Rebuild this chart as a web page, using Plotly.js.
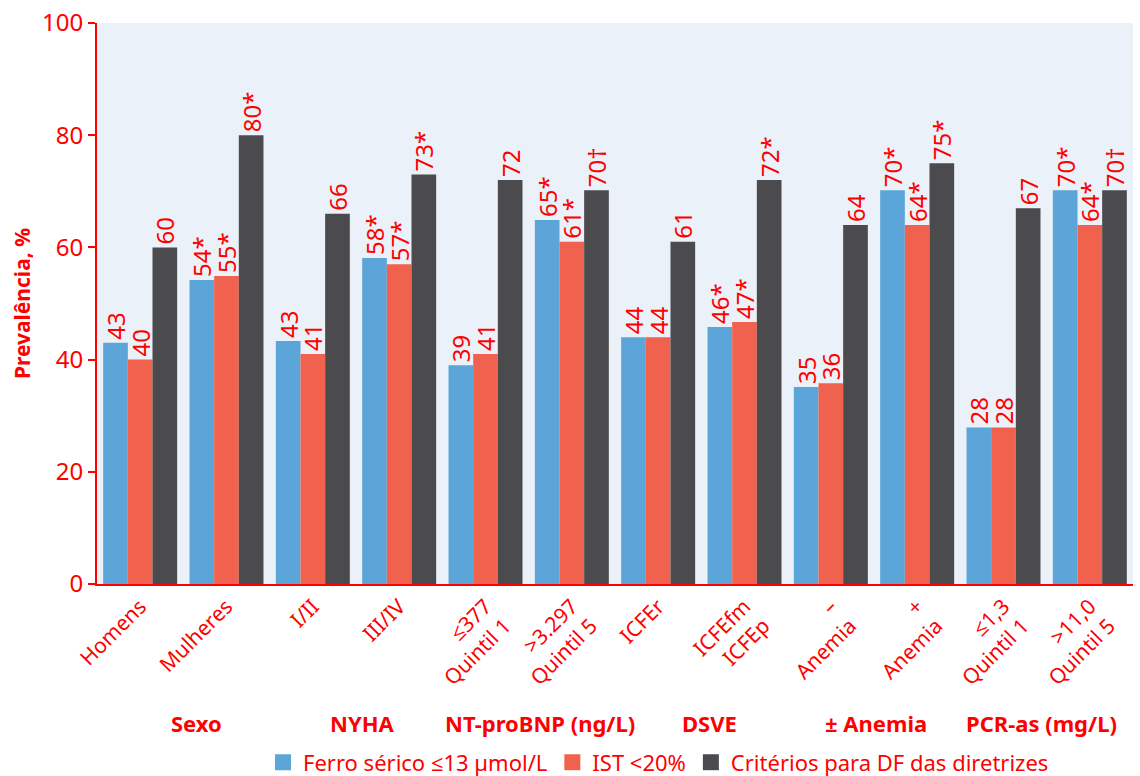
<!DOCTYPE html>
<html><head><meta charset="utf-8">
<script src="https://cdn.plot.ly/plotly-3.0.1.min.js"></script>
<style>body{margin:0;background:#fff}#chart{width:1140px;height:776px}</style>
</head><body><div id="chart"></div>
<script>
const categories = ["Homens","Mulheres","I/II","III/IV","≤377<br>Quintil 1",">3.297<br>Quintil 5","ICFEr","ICFEfm<br>ICFEp","–<br>Anemia","+<br>Anemia","≤1,3<br>Quintil 1",">11,0<br>Quintil 5"];
const ferroValues = [43,54.2,43.3,58.1,39,64.9,44,45.8,35.1,70.2,27.9,70.2];
const ferroText = ["43","54*","43","58*","39","65*","44","46*","35","70*","28","70*"];
const istValues = [40,54.9,41,57,41,61,44,46.7,35.8,64,27.9,64];
const istText = ["40","55*","41","57*","41","61*","44","47*","36","64*","28","64*"];
const dfValues = [60,80,66,73,72,70.2,61,72,64,75,67,70.2];
const dfText = ["60","80*","66","73*","72","70†","61","72*","64","75*","67","70†"];
const seriesNames = ["Ferro sérico ≤13 µmol/L","IST <20%","Critérios para DF das diretrizes"];
const groupLabels = ["Sexo","NYHA","NT-proBNP (ng/L)","DSVE","± Anemia","PCR-as (mg/L)"];
const groupPositions = [0.65,2.57,4.63,6.6,8.52,10.44];

const RED = "#ff0000";
const FONT = "Noto Sans, Open Sans, sans-serif";
const colors = ["#5ba5d9","#f0624d","#4b4a4d"];
const vals = [ferroValues, istValues, dfValues];
const texts = [ferroText, istText, dfText];
const data = vals.map((v,i)=>({
  type:"bar", x:categories, y:v, name:seriesNames[i], showlegend:false,
  marker:{color:colors[i]},
  text:texts[i], textposition:"outside", textangle:-90,
  textfont:{color:RED, size:24, family:FONT},
  constraintext:"none", cliponaxis:false, hoverinfo:"none"
}));
seriesNames.forEach((n,i)=>data.push({
  type:"scatter", mode:"markers", x:[null], y:[null], name:n, showlegend:true,
  marker:{symbol:"square", size:18, color:colors[i]}, hoverinfo:"none"
}));
const annotations = groupLabels.map((g,i)=>({
  text:"<b>"+g+"</b>", x:groupPositions[i], xref:"x", y:-0.248, yref:"paper",
  showarrow:false, font:{color:RED, size:22, family:FONT}, yanchor:"middle"
}));
const layout = {
  width:1140, height:776,
  margin:{l:97, r:7, t:23, b:192, autoexpand:false},
  paper_bgcolor:"#ffffff", plot_bgcolor:"#ebf1f9",
  barmode:"group", bargap:0.143, bargroupgap:0,
  font:{family:FONT, color:RED},
  xaxis:{type:"category", tickangle:-45, tickfont:{size:21, color:RED, family:FONT},
    showline:true, linecolor:RED, linewidth:2, ticks:"", showgrid:false, automargin:false},
  yaxis:{range:[0,100], dtick:20, ticks:"outside", ticklen:7, tickwidth:2, tickcolor:RED,
    tickfont:{size:24, color:RED, family:FONT}, showline:true, linecolor:RED, linewidth:2,
    showgrid:false, zeroline:false, automargin:false,
    title:{text:"<b>Prevalência, %</b>", font:{size:21, color:RED, family:FONT}, standoff:6}},
  legend:{orientation:"h", x:0.542, xanchor:"center", y:-0.318, yanchor:"middle",
    font:{size:22, color:RED, family:FONT}, traceorder:"normal", itemwidth:30,
    bgcolor:"rgba(0,0,0,0)"},
  annotations:annotations, showlegend:true
};
Plotly.newPlot("chart", data, layout, {displayModeBar:false, staticPlot:true});
</script></body></html>
